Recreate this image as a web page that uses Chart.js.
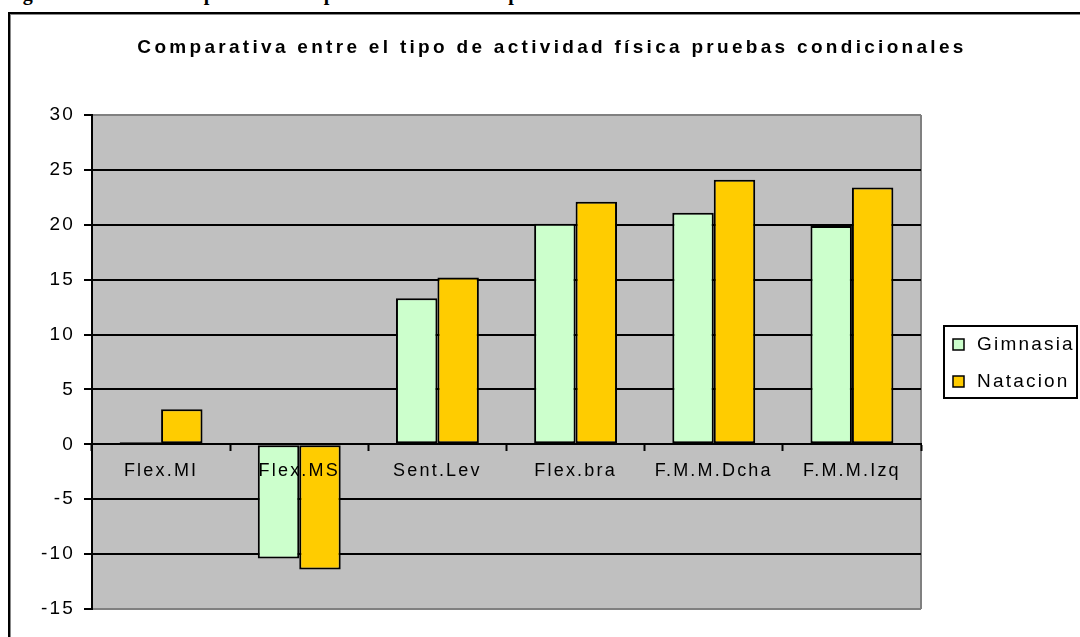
<!DOCTYPE html>
<html>
<head>
<meta charset="utf-8">
<script src="https://cdn.jsdelivr.net/npm/chart.js@4.4.1/dist/chart.umd.min.js"></script>
<style>
  html, body { margin: 0; padding: 0; background: #fff; overflow: hidden; }
  #caption {
    position: absolute; left: 5px; top: -17px; white-space: nowrap;
    font: bold 20px "Liberation Serif", serif; line-height: 20px; color: #000;
  }
  #frame {
    position: absolute; left: 8px; top: 12px; width: 1200px; height: 800px;
    border: 2px solid #000; box-shadow: inset 1px 1px 0 #888;
  }
  #wrap { position: absolute; left: 0; top: 0; width: 1080px; height: 637px; }
</style>
</head>
<body>
<div id="caption">Figura 14. Gráfico comparativo del tipo de actividad física pruebas condicionales</div>
<div id="frame"></div>
<div id="wrap"><canvas id="chart"></canvas></div>
<script>
const chartTitle = "Comparativa entre el tipo de actividad física pruebas condicionales";
const categories = ["Flex.MI", "Flex.MS", "Sent.Lev", "Flex.bra", "F.M.M.Dcha", "F.M.M.Izq"];
const seriesNames = ["Gimnasia", "Natacion"];
const gimnasia = [0.2, -10.4, 13.3, 20.1, 21.1, 19.9];
const natacion = [3.2, -11.4, 15.2, 22.1, 24.1, 23.4];
const yMin = -15;
const yMax = 30;
const yStep = 5;

const FONT = "'Liberation Sans', Arial, sans-serif";

// Excel-style text is spaced a bit wider than plain Arial
const spacing = {
  id: "spacing",
  beforeUpdate(chart) { chart.ctx.letterSpacing = "2.2px"; },
  beforeDraw(chart) { chart.ctx.letterSpacing = "2.2px"; },
};

const plotBg = {
  id: "plotBg",
  beforeDraw(chart) {
    const { ctx, chartArea: a } = chart;
    ctx.save();
    ctx.fillStyle = "#C0C0C0";
    ctx.fillRect(a.left, a.top, a.right - a.left, a.bottom - a.top);
    ctx.strokeStyle = "#808080";
    ctx.lineWidth = 2;
    ctx.beginPath();
    ctx.moveTo(a.right, a.top);
    ctx.lineTo(a.right, a.bottom);
    ctx.stroke();
    ctx.restore();
  },
};

const titleSpaced = {
  id: "titleSpaced",
  afterDraw(chart) {
    const ctx = chart.ctx;
    ctx.save();
    ctx.letterSpacing = "3.3px";
    ctx.font = "bold 19px " + FONT;
    ctx.fillStyle = "#000";
    ctx.textAlign = "center";
    ctx.textBaseline = "middle";
    ctx.fillText(chartTitle, 552, 48);
    ctx.restore();
  },
};

const boxLegend = {
  id: "boxLegend",
  afterDraw(chart) {
    const { ctx, chartArea: a } = chart;
    const x = a.right + 23;
    const cy = (a.top + a.bottom) / 2;
    ctx.save();
    ctx.fillStyle = "#fff";
    ctx.fillRect(x, cy - 36, 133, 72);
    ctx.strokeStyle = "#000";
    ctx.lineWidth = 2;
    ctx.strokeRect(x, cy - 36, 133, 72);
    ctx.font = "19px " + FONT;
    ctx.letterSpacing = "2.2px";
    ctx.textBaseline = "middle";
    chart.data.datasets.forEach((ds, i) => {
      const y = cy - 18 + i * 37;
      ctx.fillStyle = ds.backgroundColor;
      ctx.fillRect(x + 9, y - 5, 11, 11);
      ctx.lineWidth = 1.5;
      ctx.strokeRect(x + 9, y - 5, 11, 11);
      ctx.fillStyle = "#000";
      ctx.fillText(ds.label, x + 33, y + 1);
    });
    ctx.restore();
  },
};

new Chart(document.getElementById("chart"), {
  type: "bar",
  data: {
    labels: categories,
    datasets: [
      {
        label: seriesNames[0],
        data: gimnasia,
        backgroundColor: "#CCFFCC",
        borderColor: "#000",
        borderWidth: 2,
        borderSkipped: false,
      },
      {
        label: seriesNames[1],
        data: natacion,
        backgroundColor: "#FFCC00",
        borderColor: "#000",
        borderWidth: 2,
        borderSkipped: false,
      },
    ],
  },
  options: {
    responsive: true,
    maintainAspectRatio: false,
    animation: false,
    datasets: { bar: { categoryPercentage: 0.6, barPercentage: 1.0 } },
    layout: { padding: { top: 115, bottom: 28, left: 0, right: 159 } },
    plugins: {
      legend: { display: false },
      title: { display: false },
      tooltip: { enabled: false },
    },
    scales: {
      x: {
        position: { y: 0 },
        grid: {
          drawOnChartArea: false,
          drawTicks: true,
          tickLength: 6,
          tickColor: "#000",
          tickWidth: 2,
        },
        border: { display: true, color: "#000", width: 2, z: 1 },
        ticks: {
          z: 1,
          color: "#000",
          font: { family: FONT, size: 18 },
          padding: 10,
          maxRotation: 0,
          autoSkip: false,
        },
      },
      y: {
        min: yMin,
        max: yMax,
        afterFit(scale) { scale.width = 92; },
        grid: {
          color: (c) => (c.tick && (c.tick.value === yMax || c.tick.value === yMin) ? "#808080" : "#000"),
          lineWidth: 2,
          tickLength: 8,
          tickColor: "#000",
          tickWidth: 2,
        },
        border: { display: true, color: "#000", width: 2 },
        ticks: {
          stepSize: yStep,
          color: "#000",
          font: { family: FONT, size: 19 },
          padding: 9,
        },
      },
    },
  },
  plugins: [spacing, plotBg, titleSpaced, boxLegend],
});
</script>
</body>
</html>
